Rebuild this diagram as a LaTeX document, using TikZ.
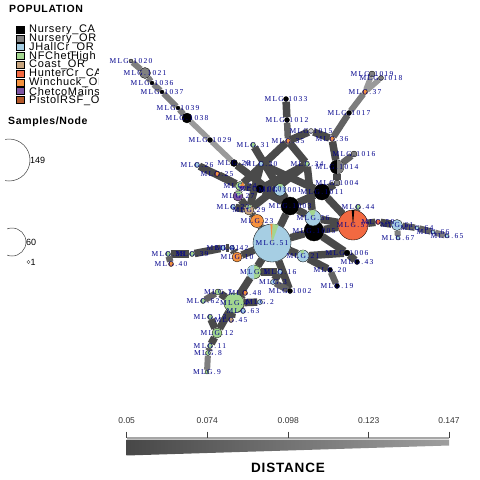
\documentclass[tikz,border=0pt]{standalone}
\usepackage{fontspec}
\setmainfont{Liberation Sans}
\newfontfamily\lblfont[LetterSpace=18]{Liberation Serif}
\newfontfamily\legfont[LetterSpace=6]{Liberation Sans}
\usetikzlibrary{backgrounds}
\definecolor{cNOR}{HTML}{808080}
\definecolor{cJH}{HTML}{A6CEE3}
\definecolor{cNF}{HTML}{A3D68F}
\definecolor{cCO}{HTML}{C6A47E}
\definecolor{cHC}{HTML}{F26941}
\definecolor{cWI}{HTML}{F5923E}
\definecolor{cCH}{HTML}{7E55A3}
\definecolor{cPI}{HTML}{B3582A}
\definecolor{cLG}{HTML}{C8C8C8}
\definecolor{lblc}{HTML}{00008B}
\definecolor{gD}{HTML}{4A4A4A}
\definecolor{gM}{HTML}{626262}
\definecolor{gL}{HTML}{7E7E7E}
\definecolor{gLL}{HTML}{9A9A9A}
\newcommand{\pwedge}[5]{\fill[#5] (#1.center) -- ++(#2:#4) arc[start angle=#2, end angle=#3, radius=#4] -- cycle;}
\begin{document}
\begin{tikzpicture}[x=1pt,y=-1pt,
  mnode/.style={circle,draw=black,line width=0.35pt,inner sep=0pt},
  lbl/.style={font=\lblfont\fontsize{7.5}{7.5}\selectfont,text=lblc,inner sep=0pt},
  eD/.style={draw=gD,line width=7.5pt},
  eM/.style={draw=gM,line width=6.5pt},
  eL/.style={draw=gL,line width=6pt},
  eLL/.style={draw=gLL,line width=5.5pt},
  legsq/.style={draw=black,line width=0.3pt,minimum width=8pt,minimum height=7pt,inner sep=0pt},
  legtx/.style={font=\legfont\fontsize{11}{11}\selectfont,anchor=west,inner sep=0pt},
  ticklbl/.style={font=\fontsize{8.5}{9}\selectfont,text=black!80,inner sep=0pt}]
\useasboundingbox (0,0) rectangle (480,480);
% ---------- nodes ----------
\foreach \n/\x/\y/\d/\c in {
 n1020/131/61/4/cNOR, n1021/145/73/11/cNOR, n1036/152/83/4/black, n1037/162/92/4/black,
 n1039/178/108/4/black, n1038/187/118/10/black, n1029/210/140/5/black, nA/234/163/7/black,
 n30/261/164/5/cJH, n31/253/145/5/cNF, n26/197/165/5/cJH, n25/217/174/5/cWI,
 n1033/286/99/5/black, n1012/287/120/5/black, n35/288/141/5/cWI, n1015/311/131/5/cLG,
 n36/332/139/5/cWI, n1017/349/113/5/black, n37/365/92/5/cWI, n1019/372/74/6/cNOR,
 n1018/381/78/5/cNOR, n1016/354/154/6/cNOR, n34/307/164/5/cNF, n1014/337/167/14/black,
 n1004/337/183/6/cNOR, n1011/322/192/16/black, n44/358/207/5/cNF, nOr/353/225/30/cHC,
 n58/378/222/5/cHC, nB/397/225/11/cJH, n64/417/228/4/cJH, n66/433/232/4/cJH,
 n65/447/236/4/cJH, n67/398/238/4/cJH, n1006/347/253/6/black, n43/357/262/5/black,
 n20/330/270/5/black, n19/337/286/5/black, n21/303/256/12/cJH, nK1/290/206/18/black,
 nK2/314/231/20/black, nBl/313/218/16/cJH, nBig/272/243/38/cJH, n1010/260/189/8/black,
 nGP/240/186/9/cNF, nPur/238/196/10/cCH, nTan/249/210/10/cCO, nOr2/257/221/13/cWI,
 nLB/280/190/12/cJH, nS1/233/207/5/cJH, nW1/223/248/5/cJH, nW2/232/248/5/cJH,
 n10/237/257/10/cWI, n38/168/254/5/cNF, n39/192/254/5/cNF, n40/171/264/5/cWI,
 nG1/254/272/14/cNF, n16/280/272/5/cJH, n3/273/282/5/cJH, n1002/290/291/5/black,
 n7/218/292/6/cNF, n48/245/293/5/cWI, nBG/234/303/20/cNF, n2/260/302/5/cJH,
 n63/243/311/5/cJH, n62/203/301/5/cNF, n13/210/317/5/cNF, n45/231/320/5/cCO,
 n12/217/333/10/cNF, n11/210/346/5/cNF, n8/208/353/5/cNF, n9/207/372/4/cNF}
 {\node[mnode,fill=\c,minimum size=\d pt] (\n) at (\x,\y) {};}
% pie wedges
\pwedge{n1014}{-90}{90}{7}{cNOR}
\pwedge{nOr}{-95}{-85}{15}{black}
\pwedge{nBl}{-120}{-70}{8}{cNF}
\pwedge{nLB}{-110}{-60}{6}{cNF}
\pwedge{n21}{-120}{-80}{6}{cNF}
\pwedge{nGP}{-60}{0}{4.5}{cWI}
\pwedge{nGP}{0}{80}{4.5}{cCH}
\pwedge{nBig}{-95}{-88}{19}{cWI}
\pwedge{nBig}{-88}{-70}{19}{cNF}
\pwedge{nG1}{90}{270}{7}{cJH}
\pwedge{nPur}{-120}{-30}{5}{cNF}
\pwedge{nTan}{-130}{-60}{5}{cNF}
% ---------- edges ----------
\begin{pgfonlayer}{background}
\foreach \a/\b/\s in {
 n1020/n1021/eL, n1021/n1036/eL, n1036/n1037/eL, n1037/n1039/eL, n1039/n1038/eL,
 n1038/n1029/eLL, n1029/nA/eLL,
 n37/n1019/eLL, n37/n1018/eLL, n1017/n37/eL, n36/n1017/eM,
 n1033/n1012/eD, n1012/n35/eM, n35/n1015/eD, n1015/n36/eD, n36/n1014/eD,
 n1014/n1016/eM, n1014/n1004/eD, n1004/n1011/eD,
 n35/nGP/eD, n35/n34/eD, n34/nBl/eD, n31/nK1/eD, nA/nK1/eD, n30/nTan/eD, n34/nTan/eD,
 n26/nGP/eD, n25/nGP/eD, n30/n1011/eD, n34/n1010/eD,
 nGP/nPur/eD, nPur/nTan/eD, nTan/nOr2/eD, nOr2/nBig/eD, n1010/nK1/eD, n1010/nGP/eD,
 nLB/nK1/eD, nK1/nBl/eD, nBl/nK2/eD, nK1/n1011/eD, n1011/nOr/eD, nK2/nOr/eD, nBl/nOr/eD,
 nK2/nBig/eD, nK1/nBig/eD, nBig/n21/eD, n21/n1006/eD, nK2/n1006/eD, n1006/n43/eD,
 n21/n20/eD, n20/n19/eM, nBig/n1002/eD,
 nOr/n44/eM, nOr/n58/eD, n58/nB/eD, nB/n64/eM, n64/n66/eM, n66/n65/eL, nB/n67/eL,
 n38/n39/eD, n39/nW1/eD, nW1/nW2/eD, nW2/n10/eD, n10/nBig/eD, n38/n40/eM, nS1/nTan/eD,
 nBig/nG1/eD, nG1/nBG/eD, nG1/n16/eD, n16/n3/eD, n3/n1002/eM, nBG/n7/eD, n7/n62/eM,
 nBG/n48/eD, nBG/n2/eD, nBG/n63/eD, nBG/n45/eD, nBG/n12/eD, n12/n13/eD, n12/n11/eD,
 n11/n8/eM, n8/n9/eL}
 {\draw[style=\s] (\a) -- (\b);}
\end{pgfonlayer}
% ---------- labels ----------
\foreach \n/\t in {
 n1020/MLG.1020, n1021/MLG.1021, n1036/MLG.1036, n1037/MLG.1037, n1039/MLG.1039,
 n1038/MLG.1038, n1029/MLG.1029, nA/MLG.28, n30/MLG.30, n31/MLG.31, n26/MLG.26,
 n25/MLG.25, n1033/MLG.1033, n1012/MLG.1012, n35/MLG.35, n1015/MLG.1015, n36/MLG.36,
 n1017/MLG.1017, n37/MLG.37, n1019/MLG.1019, n1018/MLG.1018, n1016/MLG.1016,
 n34/MLG.34, n1014/MLG.1014, n1004/MLG.1004, n1011/MLG.1011, n44/MLG.44, nOr/MLG.57,
 n58/MLG.58, nB/MLG.61, n64/MLG.64, n66/MLG.66, n65/MLG.65, n67/MLG.67,
 n1006/MLG.1006, n43/MLG.43, n20/MLG.20, n19/MLG.19, n21/MLG.21, nK1/MLG.1003,
 nK2/MLG.1005, nBl/MLG.56, nBig/MLG.51, n1010/MLG.1010, nGP/MLG.24, nPur/MLG.27,
 nTan/MLG.29, nOr2/MLG.23, nLB/MLG.1001, nS1/MLG.22, nW1/MLG.41, nW2/MLG.42,
 n10/MLG.10, n38/MLG.38, n39/MLG.39, n40/MLG.40, nG1/MLG.1, n16/MLG.16, n3/MLG.3,
 n1002/MLG.1002, n7/MLG.7, n48/MLG.48, nBG/MLG.4, n2/MLG.2, n63/MLG.63, n62/MLG.62,
 n13/MLG.13, n45/MLG.45, n12/MLG.12, n11/MLG.11, n8/MLG.8, n9/MLG.9}
 {\node[lbl] at (\n) {\t};}
% ---------- population legend ----------
\node[font=\legfont\bfseries\fontsize{10.5}{11}\selectfont,anchor=west,inner sep=0pt] (poptitle) at (9,8.5) {POPULATION};
\begin{scope}
\clip (0,20) rectangle (98,110);
\foreach \i/\c/\t in {0/black/Nursery\_CA, 1/cNOR/Nursery\_OR, 2/cJH/JHallCr\_OR,
  3/cNF/NFChetHigh, 4/cCO/Coast\_OR, 5/cHC/HunterCr\_CA, 6/cWI/Winchuck\_OR,
  7/cCH/ChetcoMainstem, 8/cPI/PistolRSF\_OR}
 {\node[legsq,fill=\c] (sq\i) at (20,29.5+8.8*\i) {};
  \node[legtx] (lt\i) at (29,29.8+8.8*\i) {\t};}
\end{scope}
% ---------- samples legend ----------
\node[font=\legfont\bfseries\fontsize{10.5}{11}\selectfont,anchor=west,inner sep=0pt] (samptitle) at (8,122) {Samples/Node};
\begin{scope}
\clip (5,130) rectangle (60,200);
\draw[black!75,line width=0.5pt] (9,160) circle[radius=21];
\end{scope}
\begin{scope}
\clip (7,220) rectangle (60,260);
\draw[black!75,line width=0.5pt] (12,242) circle[radius=14];
\end{scope}
\node[font=\fontsize{9}{9}\selectfont,anchor=west,inner sep=0pt] (s149) at (30,160.5) {149};
\node[font=\fontsize{9}{9}\selectfont,anchor=west,inner sep=0pt] (s60) at (26,242.5) {60};
\draw[black!75,line width=0.4pt] (28.5,262) circle[radius=1.6];
\node[font=\fontsize{9}{9}\selectfont,anchor=west,inner sep=0pt] (s1) at (30.5,262.5) {1};
% ---------- distance bar ----------
\shade[left color=black!72,right color=black!38] (126.7,439.5) -- (449,439.5) -- (449,445.5) -- (126.7,455.5) -- cycle;
\draw[black!35,line width=2pt] (126.7,438.3) -- (449,438.3);
\foreach \x/\t in {126.7/0.05, 207.3/0.074, 288.3/0.098, 368.7/0.123, 449/0.147}
 {\draw[black!75,line width=0.6pt] (\x,431.5) -- (\x,438);
  \node[ticklbl] at (\x,420.5) {\t};}
\node[font=\legfont\bfseries\fontsize{13.5}{14}\selectfont,inner sep=0pt] (dist) at (288,468) {DISTANCE};
\end{tikzpicture}
\end{document}
